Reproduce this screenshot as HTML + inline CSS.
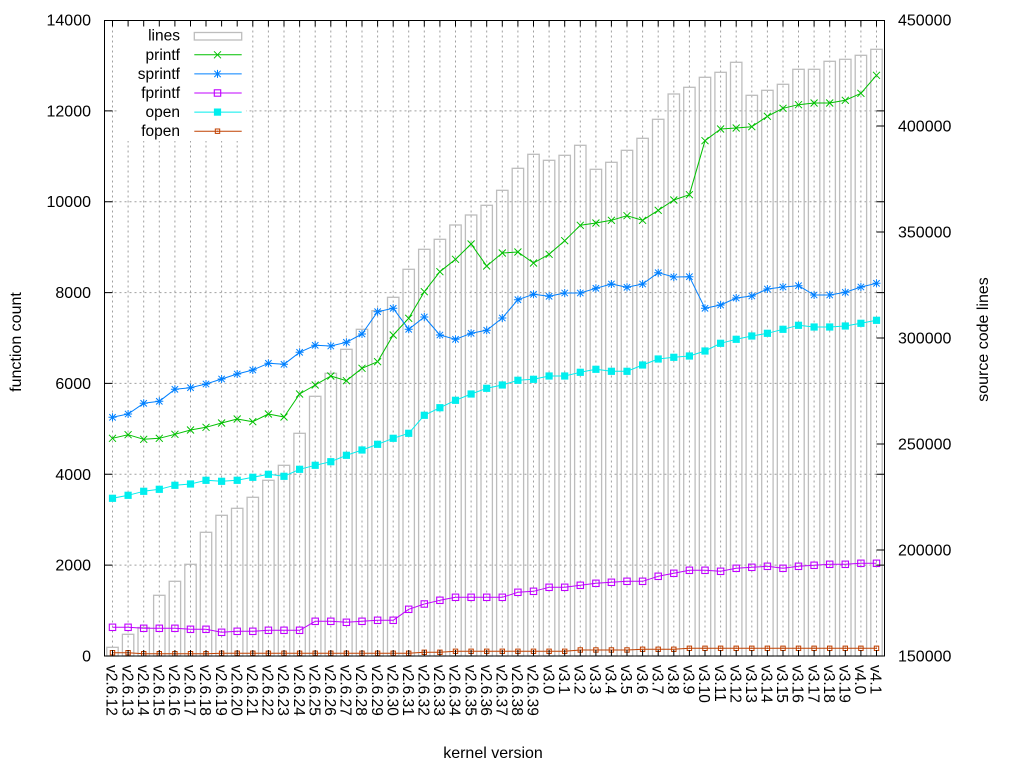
<!DOCTYPE html>
<html><head><meta charset="utf-8"><style>
html,body{margin:0;padding:0;background:#fff;}
svg{display:block;font-family:"Liberation Sans",Arial,sans-serif;}
</style></head><body>
<svg width="1024" height="768" viewBox="0 0 1024 768" xmlns="http://www.w3.org/2000/svg">
<defs>
<marker id="mpx" markerUnits="userSpaceOnUse" markerWidth="12" markerHeight="12" refX="6" refY="6" overflow="visible"><path d="M2.5 2.5L9.5 9.5M9.5 2.5L2.5 9.5" stroke="#00c000" stroke-width="1" fill="none"/></marker>
<marker id="msp" markerUnits="userSpaceOnUse" markerWidth="12" markerHeight="12" refX="6" refY="6" overflow="visible"><path d="M2.8 2.8L9.2 9.2M9.2 2.8L2.8 9.2M6 2V10M2 6H10" stroke="#0080ff" stroke-width="1" fill="none"/></marker>
<marker id="mfp" markerUnits="userSpaceOnUse" markerWidth="12" markerHeight="12" refX="6" refY="6" overflow="visible"><rect x="2.8" y="2.8" width="6.4" height="6.4" stroke="#c000ff" stroke-width="1.1" fill="none"/></marker>
<marker id="mop" markerUnits="userSpaceOnUse" markerWidth="12" markerHeight="12" refX="6" refY="6" overflow="visible"><rect x="2.4" y="2.4" width="7.2" height="7.2" fill="#00eeee"/></marker>
<marker id="mfo" markerUnits="userSpaceOnUse" markerWidth="12" markerHeight="12" refX="6" refY="6" overflow="visible"><rect x="3.8" y="3.8" width="4.4" height="4.4" stroke="#c04000" stroke-width="1" fill="none"/><rect x="5.5" y="5.5" width="1" height="1" fill="#c04000"/></marker>
</defs>

<!-- grid -->
<g stroke="#a0a0a0" stroke-width="1" stroke-dasharray="2,3" fill="none">
<path d="M112.5 20.5V656M128.1 20.5V656M143.7 20.5V656M159.3 20.5V656M174.9 20.5V656M190.5 20.5V656M206 20.5V656M221.6 20.5V656M237.2 20.5V656M252.8 20.5V656M268.4 20.5V656M284 20.5V656M299.6 20.5V656M315.2 20.5V656M330.8 20.5V656M346.4 20.5V656M362 20.5V656M377.6 20.5V656M393.2 20.5V656M408.7 20.5V656M424.3 20.5V656M439.9 20.5V656M455.5 20.5V656M471.1 20.5V656M486.7 20.5V656M502.3 20.5V656M517.9 20.5V656M533.5 20.5V656M549.1 20.5V656M564.7 20.5V656M580.3 20.5V656M595.9 20.5V656M611.4 20.5V656M627 20.5V656M642.6 20.5V656M658.2 20.5V656M673.8 20.5V656M689.4 20.5V656M705 20.5V656M720.6 20.5V656M736.2 20.5V656M751.8 20.5V656M767.4 20.5V656M783 20.5V656M798.5 20.5V656M814.1 20.5V656M829.7 20.5V656M845.3 20.5V656M860.9 20.5V656M876.5 20.5V656"/>
<path d="M104.5 565.1H884.5M104.5 474.3H884.5M104.5 383.4H884.5M104.5 292.6H884.5M104.5 201.7H884.5M104.5 110.9H884.5"/>
</g>

<!-- bars -->
<g stroke="#bdbdbd" stroke-width="1.3" fill="none">
<rect x="106.8" y="647.3" width="11.4" height="8.7"/>
<rect x="122.4" y="634.3" width="11.4" height="21.7"/>
<rect x="138" y="627.5" width="11.4" height="28.5"/>
<rect x="153.6" y="595.3" width="11.4" height="60.7"/>
<rect x="169.2" y="581.3" width="11.4" height="74.7"/>
<rect x="184.8" y="564.3" width="11.4" height="91.7"/>
<rect x="200.3" y="532.3" width="11.4" height="123.7"/>
<rect x="215.9" y="515.3" width="11.4" height="140.7"/>
<rect x="231.5" y="508.3" width="11.4" height="147.7"/>
<rect x="247.1" y="497.3" width="11.4" height="158.7"/>
<rect x="262.7" y="480.3" width="11.4" height="175.7"/>
<rect x="278.3" y="465.3" width="11.4" height="190.7"/>
<rect x="293.9" y="433.3" width="11.4" height="222.7"/>
<rect x="309.5" y="396.3" width="11.4" height="259.7"/>
<rect x="325.1" y="373.3" width="11.4" height="282.7"/>
<rect x="340.7" y="349.3" width="11.4" height="306.7"/>
<rect x="356.3" y="329.3" width="11.4" height="326.7"/>
<rect x="371.9" y="310.7" width="11.4" height="345.3"/>
<rect x="387.5" y="297.3" width="11.4" height="358.7"/>
<rect x="403" y="269.3" width="11.4" height="386.7"/>
<rect x="418.6" y="249.3" width="11.4" height="406.7"/>
<rect x="434.2" y="239.3" width="11.4" height="416.7"/>
<rect x="449.8" y="225" width="11.4" height="431"/>
<rect x="465.4" y="215" width="11.4" height="441"/>
<rect x="481" y="205.3" width="11.4" height="450.7"/>
<rect x="496.6" y="190.3" width="11.4" height="465.7"/>
<rect x="512.2" y="168.3" width="11.4" height="487.7"/>
<rect x="527.8" y="154.3" width="11.4" height="501.7"/>
<rect x="543.4" y="160.3" width="11.4" height="495.7"/>
<rect x="559" y="155.3" width="11.4" height="500.7"/>
<rect x="574.6" y="145.3" width="11.4" height="510.7"/>
<rect x="590.2" y="169.3" width="11.4" height="486.7"/>
<rect x="605.7" y="162.3" width="11.4" height="493.7"/>
<rect x="621.3" y="150.3" width="11.4" height="505.7"/>
<rect x="636.9" y="138.3" width="11.4" height="517.7"/>
<rect x="652.5" y="119.3" width="11.4" height="536.7"/>
<rect x="668.1" y="94" width="11.4" height="562"/>
<rect x="683.7" y="87.3" width="11.4" height="568.7"/>
<rect x="699.3" y="77.3" width="11.4" height="578.7"/>
<rect x="714.9" y="72.3" width="11.4" height="583.7"/>
<rect x="730.5" y="62.3" width="11.4" height="593.7"/>
<rect x="746.1" y="95.3" width="11.4" height="560.7"/>
<rect x="761.7" y="90.3" width="11.4" height="565.7"/>
<rect x="777.3" y="84.3" width="11.4" height="571.7"/>
<rect x="792.8" y="69.3" width="11.4" height="586.7"/>
<rect x="808.4" y="69.3" width="11.4" height="586.7"/>
<rect x="824" y="61.3" width="11.4" height="594.7"/>
<rect x="839.6" y="59.3" width="11.4" height="596.7"/>
<rect x="855.2" y="55.3" width="11.4" height="600.7"/>
<rect x="870.8" y="49.3" width="11.4" height="606.7"/>
</g>

<!-- series -->
<g fill="none" stroke-width="1" stroke-linejoin="round">
<polyline stroke="#00c000" marker-start="url(#mpx)" marker-mid="url(#mpx)" marker-end="url(#mpx)" points="112.5,438.3 128.1,434.7 143.7,439.3 159.3,438.3 174.9,434.3 190.5,430 206,427.3 221.6,423 237.2,419 252.8,421.7 268.4,414 284,417 299.6,394 315.2,385 330.8,376 346.4,380.7 362,368.3 377.6,361.7 393.2,335 408.7,318.3 424.3,291.7 439.9,271.7 455.5,259.3 471.1,244 486.7,266 502.3,253 517.9,252 533.5,263 549.1,254.3 564.7,240.7 580.3,225.3 595.9,223 611.4,220.3 627,215.7 642.6,220.3 658.2,210.3 673.8,200 689.4,194.7 705,140.7 720.6,129 736.2,128 751.8,126.7 767.4,116.3 783,108.3 798.5,104.7 814.1,103 829.7,103 845.3,100.3 860.9,93.3 876.5,75.3"/>
<polyline stroke="#0080ff" marker-start="url(#msp)" marker-mid="url(#msp)" marker-end="url(#msp)" points="112.5,417.3 128.1,414 143.7,403.3 159.3,401.3 174.9,389.3 190.5,387.7 206,384 221.6,379 237.2,374 252.8,370 268.4,363.3 284,364.3 299.6,352.3 315.2,345.3 330.8,346 346.4,342.3 362,334 377.6,311.7 393.2,308.3 408.7,329.3 424.3,317 439.9,335 455.5,339.3 471.1,333.3 486.7,330.3 502.3,318 517.9,299.7 533.5,294.3 549.1,296.3 564.7,293 580.3,293 595.9,288.3 611.4,284 627,287.3 642.6,284 658.2,272.7 673.8,277 689.4,276.7 705,308.3 720.6,305 736.2,298 751.8,296 767.4,289 783,287 798.5,285.7 814.1,295 829.7,295 845.3,292.3 860.9,287 876.5,283.3"/>
<polyline stroke="#c000ff" marker-start="url(#mfp)" marker-mid="url(#mfp)" marker-end="url(#mfp)" points="112.5,627.3 128.1,627.3 143.7,628.3 159.3,628.3 174.9,628.3 190.5,629.3 206,629.3 221.6,632.3 237.2,631.3 252.8,631.3 268.4,630.3 284,630.3 299.6,630.3 315.2,621.3 330.8,621.3 346.4,622.3 362,621.3 377.6,620.3 393.2,620.3 408.7,609.3 424.3,604 439.9,600.3 455.5,597.3 471.1,597.3 486.7,597.3 502.3,597.3 517.9,592.3 533.5,591.3 549.1,587.3 564.7,587.3 580.3,585.3 595.9,583.3 611.4,582.3 627,581.3 642.6,581.3 658.2,576.3 673.8,573.3 689.4,570.3 705,570.3 720.6,571.3 736.2,568.3 751.8,567.3 767.4,566.3 783,568.3 798.5,566.3 814.1,565.3 829.7,564.3 845.3,564.3 860.9,563.3 876.5,563.3"/>
<polyline stroke="#00eeee" marker-start="url(#mop)" marker-mid="url(#mop)" marker-end="url(#mop)" points="112.5,498.3 128.1,495.3 143.7,491.3 159.3,489.3 174.9,485.3 190.5,484 206,480.3 221.6,481.3 237.2,480.3 252.8,477.3 268.4,474.3 284,476.3 299.6,469.3 315.2,465.3 330.8,461.7 346.4,455.3 362,450 377.6,444.3 393.2,438.3 408.7,433.3 424.3,415.3 439.9,407.7 455.5,400.3 471.1,394 486.7,388.3 502.3,385 517.9,380.3 533.5,379.3 549.1,376 564.7,376 580.3,372.3 595.9,369.3 611.4,371.3 627,371.3 642.6,365 658.2,359 673.8,357.3 689.4,356 705,351 720.6,343.3 736.2,339.3 751.8,336 767.4,333.3 783,329.3 798.5,325.3 814.1,327 829.7,327 845.3,326 860.9,323.3 876.5,320.3"/>
<polyline stroke="#c04000" marker-start="url(#mfo)" marker-mid="url(#mfo)" marker-end="url(#mfo)" points="112.5,652.7 128.1,652.7 143.7,653.7 159.3,653.7 174.9,653.7 190.5,653.7 206,653.7 221.6,653.3 237.2,653.3 252.8,653.3 268.4,653.3 284,653.3 299.6,653.3 315.2,653.3 330.8,653.3 346.4,653.3 362,653.3 377.6,653.3 393.2,653.3 408.7,653.3 424.3,652.3 439.9,652.3 455.5,651.3 471.1,651.3 486.7,651.3 502.3,651.3 517.9,651.3 533.5,651.3 549.1,651.3 564.7,651.3 580.3,650 595.9,650 611.4,650 627,650 642.6,649.3 658.2,649.3 673.8,649.3 689.4,648.3 705,648.3 720.6,648.3 736.2,648.3 751.8,648.3 767.4,648.3 783,648.3 798.5,648.3 814.1,648.3 829.7,648.3 845.3,648.3 860.9,648.3 876.5,648.3"/>
</g>

<!-- legend -->
<rect x="118" y="21" width="128" height="120" fill="#fff"/>
<g font-size="15.5" text-anchor="end" fill="#000">
<text x="180" y="40.7">lines</text>
<text x="180" y="59.8">printf</text>
<text x="180" y="78.9">sprintf</text>
<text x="180" y="98">fprintf</text>
<text x="180" y="117.1">open</text>
<text x="180" y="136.2">fopen</text>
</g>
<rect x="194.3" y="32.5" width="47.4" height="7.5" fill="none" stroke="#bdbdbd" stroke-width="1.3"/>
<g fill="none" stroke-width="1">
<polyline stroke="#00c000" marker-mid="url(#mpx)" points="194.3,54.8 217.5,54.8 241.7,54.8"/>
<polyline stroke="#0080ff" marker-mid="url(#msp)" points="194.3,73.9 217.5,73.9 241.7,73.9"/>
<polyline stroke="#c000ff" marker-mid="url(#mfp)" points="194.3,93 217.5,93 241.7,93"/>
<polyline stroke="#00eeee" marker-mid="url(#mop)" points="194.3,112.1 217.5,112.1 241.7,112.1"/>
<polyline stroke="#c04000" marker-mid="url(#mfo)" points="194.3,131.2 217.5,131.2 241.7,131.2"/>
</g>

<!-- border & ticks -->
<g stroke="#000" stroke-width="1" fill="none">
<rect x="104.5" y="20.5" width="780" height="635.5"/>
<path d="M104.5 565.1h8M104.5 474.3h8M104.5 383.4h8M104.5 292.6h8M104.5 201.7h8M104.5 110.9h8M884.5 565.1h-8M884.5 474.3h-8M884.5 383.4h-8M884.5 292.6h-8M884.5 201.7h-8M884.5 110.9h-8M884.5 550h-8M884.5 444h-8M884.5 338h-8M884.5 232h-8M884.5 126h-8"/>
<path d="M112.5 656v-6M128.1 656v-6M143.7 656v-6M159.3 656v-6M174.9 656v-6M190.5 656v-6M206 656v-6M221.6 656v-6M237.2 656v-6M252.8 656v-6M268.4 656v-6M284 656v-6M299.6 656v-6M315.2 656v-6M330.8 656v-6M346.4 656v-6M362 656v-6M377.6 656v-6M393.2 656v-6M408.7 656v-6M424.3 656v-6M439.9 656v-6M455.5 656v-6M471.1 656v-6M486.7 656v-6M502.3 656v-6M517.9 656v-6M533.5 656v-6M549.1 656v-6M564.7 656v-6M580.3 656v-6M595.9 656v-6M611.4 656v-6M627 656v-6M642.6 656v-6M658.2 656v-6M673.8 656v-6M689.4 656v-6M705 656v-6M720.6 656v-6M736.2 656v-6M751.8 656v-6M767.4 656v-6M783 656v-6M798.5 656v-6M814.1 656v-6M829.7 656v-6M845.3 656v-6M860.9 656v-6M876.5 656v-6"/>
<path d="M112.5 20.5v6M128.1 20.5v6M143.7 20.5v6M159.3 20.5v6M174.9 20.5v6M190.5 20.5v6M206 20.5v6M221.6 20.5v6M237.2 20.5v6M252.8 20.5v6M268.4 20.5v6M284 20.5v6M299.6 20.5v6M315.2 20.5v6M330.8 20.5v6M346.4 20.5v6M362 20.5v6M377.6 20.5v6M393.2 20.5v6M408.7 20.5v6M424.3 20.5v6M439.9 20.5v6M455.5 20.5v6M471.1 20.5v6M486.7 20.5v6M502.3 20.5v6M517.9 20.5v6M533.5 20.5v6M549.1 20.5v6M564.7 20.5v6M580.3 20.5v6M595.9 20.5v6M611.4 20.5v6M627 20.5v6M642.6 20.5v6M658.2 20.5v6M673.8 20.5v6M689.4 20.5v6M705 20.5v6M720.6 20.5v6M736.2 20.5v6M751.8 20.5v6M767.4 20.5v6M783 20.5v6M798.5 20.5v6M814.1 20.5v6M829.7 20.5v6M845.3 20.5v6M860.9 20.5v6M876.5 20.5v6"/>
</g>

<!-- left axis labels -->
<g font-size="16" text-anchor="end" fill="#000">
<text x="91" y="661.5">0</text>
<text x="91" y="570.6">2000</text>
<text x="91" y="479.8">4000</text>
<text x="91" y="388.9">6000</text>
<text x="91" y="298.1">8000</text>
<text x="91" y="207.2">10000</text>
<text x="91" y="116.4">12000</text>
<text x="91" y="25.5">14000</text>
</g>
<!-- right axis labels -->
<g font-size="16" text-anchor="start" fill="#000">
<text x="898" y="661.5">150000</text>
<text x="898" y="555.5">200000</text>
<text x="898" y="449.5">250000</text>
<text x="898" y="343.5">300000</text>
<text x="898" y="237.5">350000</text>
<text x="898" y="131.5">400000</text>
<text x="898" y="25.5">450000</text>
</g>

<!-- x labels -->
<g font-size="15.5" fill="#000">
<text transform="translate(106.7,665) rotate(90)">v2.6.12</text>
<text transform="translate(122.3,665) rotate(90)">v2.6.13</text>
<text transform="translate(137.9,665) rotate(90)">v2.6.14</text>
<text transform="translate(153.5,665) rotate(90)">v2.6.15</text>
<text transform="translate(169.1,665) rotate(90)">v2.6.16</text>
<text transform="translate(184.7,665) rotate(90)">v2.6.17</text>
<text transform="translate(200.2,665) rotate(90)">v2.6.18</text>
<text transform="translate(215.8,665) rotate(90)">v2.6.19</text>
<text transform="translate(231.4,665) rotate(90)">v2.6.20</text>
<text transform="translate(247,665) rotate(90)">v2.6.21</text>
<text transform="translate(262.6,665) rotate(90)">v2.6.22</text>
<text transform="translate(278.2,665) rotate(90)">v2.6.23</text>
<text transform="translate(293.8,665) rotate(90)">v2.6.24</text>
<text transform="translate(309.4,665) rotate(90)">v2.6.25</text>
<text transform="translate(325,665) rotate(90)">v2.6.26</text>
<text transform="translate(340.6,665) rotate(90)">v2.6.27</text>
<text transform="translate(356.2,665) rotate(90)">v2.6.28</text>
<text transform="translate(371.8,665) rotate(90)">v2.6.29</text>
<text transform="translate(387.4,665) rotate(90)">v2.6.30</text>
<text transform="translate(402.9,665) rotate(90)">v2.6.31</text>
<text transform="translate(418.5,665) rotate(90)">v2.6.32</text>
<text transform="translate(434.1,665) rotate(90)">v2.6.33</text>
<text transform="translate(449.7,665) rotate(90)">v2.6.34</text>
<text transform="translate(465.3,665) rotate(90)">v2.6.35</text>
<text transform="translate(480.9,665) rotate(90)">v2.6.36</text>
<text transform="translate(496.5,665) rotate(90)">v2.6.37</text>
<text transform="translate(512.1,665) rotate(90)">v2.6.38</text>
<text transform="translate(527.7,665) rotate(90)">v2.6.39</text>
<text transform="translate(543.3,665) rotate(90)">v3.0</text>
<text transform="translate(558.9,665) rotate(90)">v3.1</text>
<text transform="translate(574.5,665) rotate(90)">v3.2</text>
<text transform="translate(590.1,665) rotate(90)">v3.3</text>
<text transform="translate(605.6,665) rotate(90)">v3.4</text>
<text transform="translate(621.2,665) rotate(90)">v3.5</text>
<text transform="translate(636.8,665) rotate(90)">v3.6</text>
<text transform="translate(652.4,665) rotate(90)">v3.7</text>
<text transform="translate(668,665) rotate(90)">v3.8</text>
<text transform="translate(683.6,665) rotate(90)">v3.9</text>
<text transform="translate(699.2,665) rotate(90)">v3.10</text>
<text transform="translate(714.8,665) rotate(90)">v3.11</text>
<text transform="translate(730.4,665) rotate(90)">v3.12</text>
<text transform="translate(746,665) rotate(90)">v3.13</text>
<text transform="translate(761.6,665) rotate(90)">v3.14</text>
<text transform="translate(777.2,665) rotate(90)">v3.15</text>
<text transform="translate(792.7,665) rotate(90)">v3.16</text>
<text transform="translate(808.3,665) rotate(90)">v3.17</text>
<text transform="translate(823.9,665) rotate(90)">v3.18</text>
<text transform="translate(839.5,665) rotate(90)">v3.19</text>
<text transform="translate(855.1,665) rotate(90)">v4.0</text>
<text transform="translate(870.7,665) rotate(90)">v4.1</text>
</g>

<!-- axis titles -->
<g font-size="16" text-anchor="middle" fill="#000">
<text transform="translate(21,342) rotate(-90)">function count</text>
<text transform="translate(988,339.5) rotate(-90)">source code lines</text>
<text x="493" y="758">kernel version</text>
</g>
</svg>
</body></html>
